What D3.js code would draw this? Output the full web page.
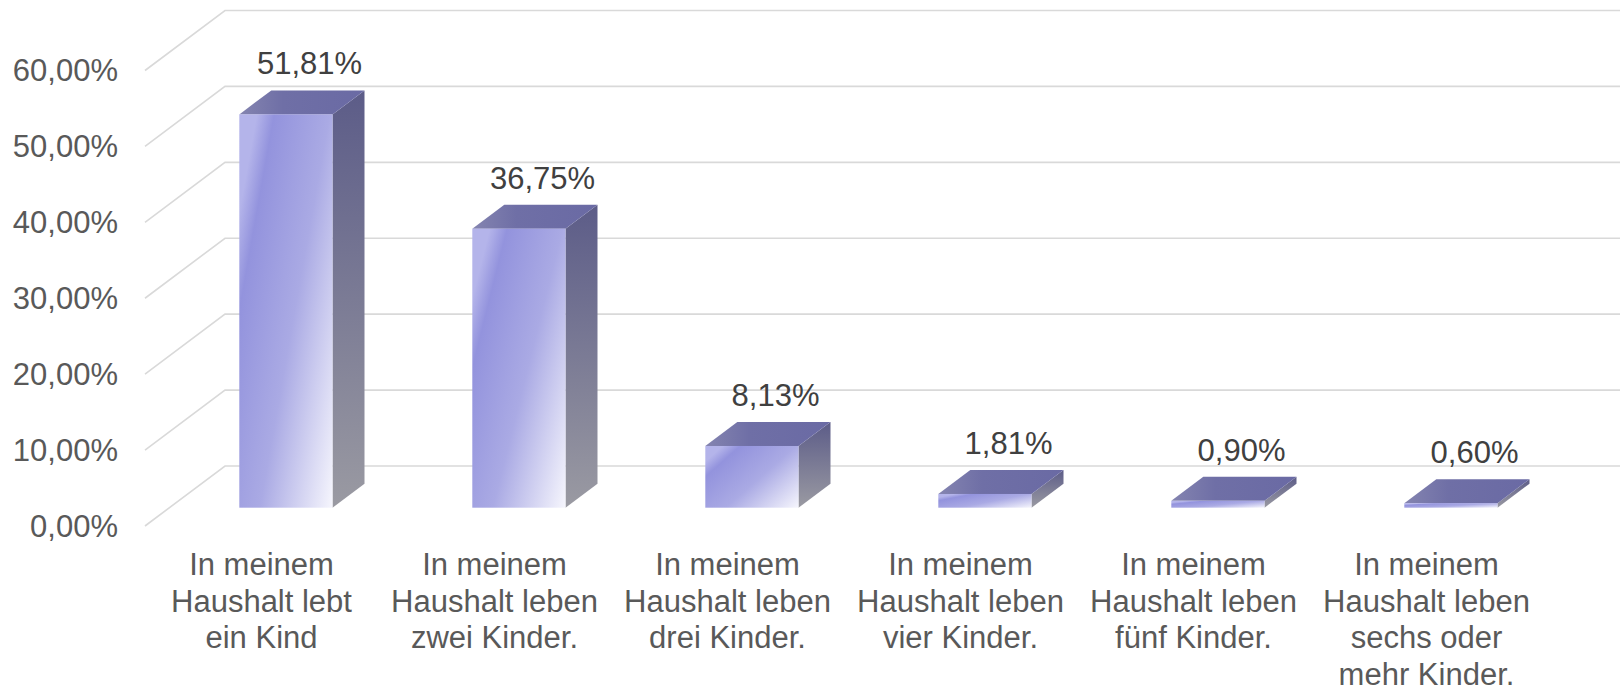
<!DOCTYPE html>
<html>
<head>
<meta charset="utf-8">
<script src="https://cdn.jsdelivr.net/npm/d3@7"></script>
<style>
  body { margin: 0; background: #fff; }
  svg { display: block; font-family: "Liberation Sans", Arial, sans-serif; }
  .tick { fill: #595959; font-size: 31px; }
  .val { fill: #404040; font-size: 31px; }
</style>
</head>
<body>
<svg id="chart"></svg>
<script>
// data
const categories = [
  "In meinem Haushalt lebt ein Kind",
  "In meinem Haushalt leben zwei Kinder.",
  "In meinem Haushalt leben drei Kinder.",
  "In meinem Haushalt leben vier Kinder.",
  "In meinem Haushalt leben fünf Kinder.",
  "In meinem Haushalt leben sechs oder mehr Kinder."
];
const values = [51.81, 36.75, 8.13, 1.81, 0.90, 0.60];
const valueLabels = ["51,81%", "36,75%", "8,13%", "1,81%", "0,90%", "0,60%"];
const yTicks = [0, 10, 20, 30, 40, 50, 60];

const W = 1620, H = 687;
const depthX = 80, depthY = 60;   // wall depth (front plane -> back wall)
const z0 = 0.305, z1 = 0.705;      // bar front / back depth

const svg = d3.select("#chart").attr("width", W).attr("height", H);

const x = d3.scaleBand().domain(categories).range([145, 1543])
  .paddingInner(0.6).paddingOuter(0.3);
// y on the front plane
const y = d3.scaleLinear().domain([0, 60]).range([526, 70.5]);

// projection: front-plane point shifted back by depth z
const px = (xx, z) => xx + z * depthX;
const py = (yy, z) => yy - z * depthY;

// gradients
const defs = svg.append("defs");
const gFront = defs.append("linearGradient").attr("id", "gFront")
  .attr("x1", 0).attr("y1", 0.25).attr("x2", 1).attr("y2", 1);
[[0, "#b4b4ea"], [0.12, "#9393dd"], [0.5, "#aaaae4"], [1, "#f6f6fd"]]
  .forEach(s => gFront.append("stop").attr("offset", s[0]).attr("stop-color", s[1]));
const gSide = defs.append("linearGradient").attr("id", "gSide")
  .attr("x1", 0).attr("y1", 0).attr("x2", 0).attr("y2", 1);
[[0, "#5c5c88"], [1, "#9a9aa2"]]
  .forEach(s => gSide.append("stop").attr("offset", s[0]).attr("stop-color", s[1]));
const gTop = defs.append("linearGradient").attr("id", "gTop")
  .attr("x1", 0).attr("y1", 0).attr("x2", 1).attr("y2", 0);
[[0, "#8484b0"], [0.35, "#6f6fa6"], [1, "#6a6aa4"]]
  .forEach(s => gTop.append("stop").attr("offset", s[0]).attr("stop-color", s[1]));

// gridlines: slanted side wall + back wall
const grid = svg.append("g").attr("stroke", "#d9d9d9").attr("stroke-width", 1.6).attr("fill", "none");
yTicks.forEach(t => {
  grid.append("path").attr("d", d3.line()([
    [145, y(t)], [px(145, 1), py(y(t), 1)], [W, py(y(t), 1)]
  ]));
});

// y tick labels
svg.append("g").selectAll("text").data(yTicks).join("text")
  .attr("class", "tick")
  .attr("x", 118).attr("y", d => y(d))
  .attr("text-anchor", "end").attr("dominant-baseline", "central")
  .text(d => d3.format(".2f")(d).replace(".", ",") + "%");

// bars
const bars = svg.append("g").selectAll("g").data(categories).join("g");
bars.each(function (c, i) {
  const g = d3.select(this);
  const l = x(c), r = x(c) + x.bandwidth();
  const top = y(values[i]), bot = y(0);
  const poly = pts => g.append("polygon").attr("points", pts.map(p => p.join(",")).join(" "));
  // side
  poly([[px(r, z0), py(top, z0)], [px(r, z1), py(top, z1)], [px(r, z1), py(bot, z1)], [px(r, z0), py(bot, z0)]])
    .attr("fill", "url(#gSide)");
  // top
  poly([[px(l, z0), py(top, z0)], [px(r, z0), py(top, z0)], [px(r, z1), py(top, z1)], [px(l, z1), py(top, z1)]])
    .attr("fill", "url(#gTop)");
  // front
  g.append("rect")
    .attr("x", px(l, z0)).attr("y", py(top, z0))
    .attr("width", x.bandwidth()).attr("height", bot - top)
    .attr("fill", "url(#gFront)");
  // value label
  g.append("text").attr("class", "val")
    .attr("x", px(l + x.bandwidth() / 2, 0.6))
    .attr("y", py(top, z1) - 16)
    .attr("text-anchor", "middle")
    .text(valueLabels[i]);
});

// category labels, wrapped
const xl = svg.append("g").selectAll("text").data(categories).join("text")
  .attr("class", "tick")
  .attr("text-anchor", "middle")
  .attr("x", d => x(d) + x.bandwidth() / 2)
  .attr("y", 575);
xl.each(function (d) {
  const t = d3.select(this);
  const cx = +t.attr("x");
  const words = d.split(" ");
  let line = [];
  let ts = t.append("tspan").attr("x", cx).attr("dy", 0);
  words.forEach(w => {
    line.push(w);
    ts.text(line.join(" "));
    if (ts.node().getComputedTextLength() > 222 && line.length > 1) {
      line.pop();
      ts.text(line.join(" "));
      line = [w];
      ts = t.append("tspan").attr("x", cx).attr("dy", 36.5).text(w);
    }
  });
});
</script>
</body>
</html>
